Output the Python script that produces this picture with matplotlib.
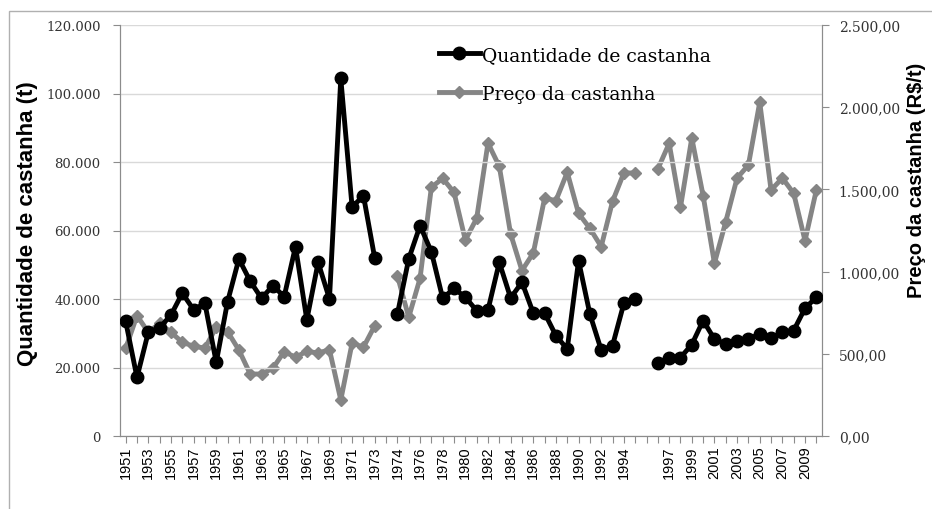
import matplotlib.pyplot as plt
import matplotlib.patches as mpatches
import numpy as np

# categorias do eixo x (com duas categorias vazias, como no original)
anos = [str(a) for a in range(1951, 1974)] + [""] + \
       [str(a) for a in range(1974, 1996)] + [""] + \
       [str(a) for a in range(1996, 2011)]

# quantidade de castanha (t) - None onde não há dado
quantidade = [33500, 17100, 30300, 31600, 35300, 41700, 36900, 38700, 21500, 39200,
              51700, 45200, 40200, 43900, 40700, 55300, 33900, 50700, 40000, 104400,
              66800, 70200, 51900,
              None,
              35600, 51700, 61400, 53800, 40200, 43100, 40500, 36600, 36800, 50700,
              40300, 44900, 35900, 35900, 29300, 25400, 51200, 35600, 25100, 26400,
              38700, 40000,
              None,
              21300, 22800, 22900, 26700, 33700, 28300, 26900, 27800, 28300, 29800,
              28500, 30300, 30800, 37300, 40500]

# preço da castanha (R$/t)
preco = [533, 732, 631, 685, 631, 570, 546, 535, 661, 635,
         523, 377, 377, 412, 513, 479, 515, 505, 525, 219,
         566, 540, 671,
         None,
         975, 722, 959, 1513, 1567, 1482, 1192, 1324, 1782, 1640,
         1229, 1006, 1113, 1446, 1432, 1604, 1354, 1263, 1152, 1427,
         1600, 1600,
         None,
         1624, 1780, 1391, 1813, 1462, 1050, 1304, 1569, 1648, 2030,
         1496, 1569, 1476, 1188, 1496]

x_pos = np.arange(len(anos))
q = np.array([np.nan if v is None else v for v in quantidade], dtype=float)
p = np.array([np.nan if v is None else v for v in preco], dtype=float)

#==============================================================================

fig = plt.figure(figsize=(9.32, 5.1), dpi=100)
ax = fig.add_axes([120/932, 1 - 437/510, 702/932, 411/510])
ax2 = ax.twinx()

# moldura externa
fig.patches.append(mpatches.Rectangle((9/932, -0.1), 1.2, 1 - 12/510 + 0.1,
                                      transform=fig.transFigure, fill=False,
                                      edgecolor='#b0b0b0', linewidth=1))

cinza = '#858585'
l1, = ax.plot(x_pos, q, color='black', linewidth=3.5, marker='o', markersize=9,
              label="Quantidade de castanha", zorder=3)
l2, = ax2.plot(x_pos, p, color=cinza, linewidth=3.5, marker='D', markersize=6.5,
               label="Preço da castanha", zorder=2)
ax.set_zorder(ax2.get_zorder() + 1)
ax.patch.set_visible(False)

ax.set_xlim(-0.5, len(anos) - 0.5)
ax.set_ylim(0, 120000)
ax2.set_ylim(0, 2500)

ax.set_yticks(np.arange(0, 120001, 20000))
ax.set_yticklabels(['0' if v == 0 else f'{v // 1000}.000' for v in range(0, 120001, 20000)],
                   family='DejaVu Serif', fontsize=9.5)
ax2.set_yticks(np.arange(0, 2501, 500))
ax2.set_yticklabels(['0,00', '500,00', '1.000,00', '1.500,00', '2.000,00', '2.500,00'],
                    family='DejaVu Serif', fontsize=10)

ax.set_xticks(x_pos)
ax.set_xticklabels([a if i % 2 == 0 else '' for i, a in enumerate(anos)],
                   rotation=90, family='Liberation Sans', fontsize=10.5)

ax.grid(axis='y', color='#d9d9d9', linewidth=1)
ax.set_axisbelow(True)

for a in (ax, ax2):
    a.spines['top'].set_visible(False)
    for s in ('left', 'right', 'bottom'):
        a.spines[s].set_color('#8c8c8c')
    a.tick_params(colors='#8c8c8c', length=5, labelcolor='#333333')
ax.tick_params(axis='y', pad=9)
ax2.tick_params(axis='y', pad=7)
ax.tick_params(axis='x', labelcolor='black', length=5, pad=2)

ax.set_ylabel('Quantidade de castanha (t)', family='Liberation Sans', fontweight='bold',
              fontsize=16)
ax.yaxis.set_label_coords(-0.117, 0.518)
ax2.set_ylabel('Preço da castanha (R$/t)', family='Liberation Sans', fontweight='bold',
               fontsize=14.5)
ax2.yaxis.set_label_coords(1.121, 0.625)

lgd = ax.legend(handles=[l1, l2], loc='upper left', bbox_to_anchor=(0.43, 0.99),
                frameon=False, prop={'family': 'DejaVu Serif', 'size': 13.5},
                handlelength=2.2, handletextpad=0.1, labelspacing=1.1)

plt.savefig("out.png", dpi=100)
